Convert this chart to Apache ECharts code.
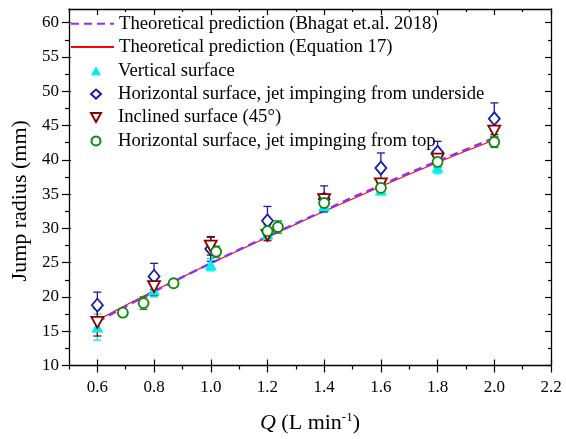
<!DOCTYPE html>
<html>
<head>
<meta charset="utf-8">
<script src="https://cdn.jsdelivr.net/npm/echarts@6/dist/echarts.min.js"></script>
<style>html,body{margin:0;padding:0;background:#fff}#c{width:566px;height:439px}</style>
</head>
<body>
<div id="c"></div>
<script>
// ---- data ----
const qLine = [0.6,0.7,0.8,0.9,1.0,1.1,1.2,1.3,1.4,1.5,1.6,1.7,1.8,1.9,2.0];
const bhagat = [16.4,18.6,20.8,22.9,24.9,26.9,28.8,30.7,32.6,34.5,36.3,38.1,39.8,41.5,43.2];
const eq17 = [16.6,18.8,20.9,22.9,24.9,26.8,28.7,30.6,32.5,34.3,36.1,37.9,39.6,41.3,42.9];

const qMain = [0.6,0.8,1.0,1.2,1.4,1.6,1.8,2.0];
const vertY   = [15.6,21.0,24.7,29.2,33.3,35.6,38.9,43.3];
const vertErr = [1.9,1.0,0.9,0.8,0.8,0.7,0.9,0.8];
const underY   = [18.8,23.0,27.0,31.1,34.3,38.8,41.1,46.0];
const underErr = [1.9,1.9,1.8,2.1,1.9,2.2,1.6,2.3];
const inclY   = [16.3,21.5,27.4,29.0,34.2,36.5,40.1,44.2];
const inclErr = [2.0,1.3,1.3,0.8,0.8,0.7,0.8,0.8];
const qTop   = [0.69,0.763,0.869,1.019,1.2,1.237,1.4,1.6,1.8,2.0];
const topY   = [17.7,19.1,22.0,26.6,29.6,30.2,33.7,35.9,39.7,42.6];
const topErr = [0.3,0.9,0.4,0.8,0.9,0.9,0.8,0.7,0.8,0.8];

const xMajor = [0.6,0.8,1.0,1.2,1.4,1.6,1.8,2.0,2.2];
const xMinor = [0.5,0.7,0.9,1.1,1.3,1.5,1.7,1.9,2.1];
const yMajor = [10,15,20,25,30,35,40,45,50,55,60];
const yMinor = [12.5,17.5,22.5,27.5,32.5,37.5,42.5,47.5,52.5,57.5];

const names = {
  bh: 'Theoretical prediction (Bhagat et.al. 2018)',
  eq: 'Theoretical prediction (Equation 17)',
  v: 'Vertical surface',
  u: 'Horizontal surface, jet impinging from underside',
  i: 'Inclined surface (45\u00B0)',
  t: 'Horizontal surface, jet impinging from top'
};
// ---- style ----
const FONT = "'Liberation Serif','Times New Roman',serif";
const C = {bh:'#9030F0', eq:'#FF0000', v:'#00F0F0', u:'#1A1AA6', i:'#8B0000', t:'#0A8A0A'};
const XMIN=0.5, XMAX=2.2, YMIN=10, YMAX=62;

function ax(type, extra){
  const base = {type:'value', gridIndex:0,
    min: type==='x'?XMIN:YMIN, max: type==='x'?XMAX:YMAX,
    axisLine:{show:false}, axisTick:{show:false}, axisLabel:{show:false},
    splitLine:{show:false}, minorTick:{show:false}};
  return Object.assign(base, extra);
}
const lineSty = {show:true, onZero:false, lineStyle:{color:'#000', width:1.3}};
function tick(vals, len, inside){ return {show:true, customValues:vals, length:len, inside:inside, lineStyle:{color:'#000', width:1.2}}; }

const pairs = (xs, ys) => xs.map((x,k)=>[x, ys[k]]);
const triples = (xs, ys, es) => xs.map((x,k)=>[x, ys[k], es[k]]);

function errSeries(data, color){
  return {
    type:'custom', data: data, z: 2, silent:true,
    renderItem: function(params, api){
      const x = api.value(0), y = api.value(1), e = api.value(2);
      const lo = api.coord([x, y - e]);
      const hi = api.coord([x, y + e]);
      const w = 4;
      const st = {stroke: color, lineWidth: 1.3};
      return {type:'group', children:[
        {type:'line', shape:{x1:lo[0], y1:lo[1], x2:hi[0], y2:hi[1]}, style:st},
        {type:'line', shape:{x1:lo[0]-w, y1:lo[1], x2:lo[0]+w, y2:lo[1]}, style:st},
        {type:'line', shape:{x1:hi[0]-w, y1:hi[1], x2:hi[0]+w, y2:hi[1]}, style:st}
      ]};
    }
  };
}
function scat(name, data, color, symbol, size, filled){
  return {type:'scatter', name:name, data:data, symbol:symbol, symbolSize:size, z:3,
    itemStyle:{color: filled?color:'#fff', borderColor:color, borderWidth: filled?0:1.8, opacity:1},
    emphasis:{disabled:true}};
}

const chart = echarts.init(document.getElementById('c'), null, {renderer:'canvas'});
const legendText = {fontFamily:FONT, fontSize:18.7, color:'#000', lineHeight:23.4};
chart.setOption({
  animation:false,
  backgroundColor:'#fff',
  grid:{left:69, right:15, top:9, bottom:73, containLabel:false},
  legend:[
    {data:[{name:names.bh, itemStyle:{opacity:0}}, {name:names.eq, itemStyle:{opacity:0}}],
     orient:'vertical', left:70, top:12, padding:0,
     itemWidth:43, itemHeight:10, itemGap:0, selectedMode:false, textStyle:legendText},
    {data:[names.v, names.u, names.i, names.t], orient:'vertical', left:90, top:59, padding:0,
     itemWidth:10, itemHeight:9, itemGap:0, selectedMode:false,
     textStyle:Object.assign({padding:[0,0,0,12]}, legendText)}
  ],
  xAxis:[
    ax('x', {position:'bottom', axisLine:lineSty, axisTick:tick(xMajor,7,false),
      axisLabel:{show:true, customValues:xMajor, margin:14, fontFamily:FONT, fontSize:17, color:'#000',
        formatter:v=>Number(v).toFixed(1)},
      name:'{i|Q} (L min{s|-1})', nameLocation:'middle', nameGap:46,
      nameTextStyle:{fontFamily:FONT, fontSize:22, color:'#000',
        rich:{i:{fontFamily:FONT, fontSize:22, fontStyle:'italic', color:'#000'},
              s:{fontFamily:FONT, fontSize:13, color:'#000', padding:[0,0,10,0]}}}}),
    ax('x', {position:'bottom', axisTick:tick(xMajor,6,true)}),
    ax('x', {position:'bottom', axisTick:tick(xMinor,4,false)}),
    ax('x', {position:'top', axisLine:lineSty, axisTick:tick(xMajor,6,true)}),
    ax('x', {position:'top', axisTick:tick(xMinor,3,true)})
  ],
  yAxis:[
    ax('y', {position:'left', axisLine:lineSty, axisTick:tick(yMajor,7,false),
      axisLabel:{show:true, customValues:yMajor, margin:10, fontFamily:FONT, fontSize:17, color:'#000'},
      name:'Jump radius (mm)', nameLocation:'middle', nameGap:37,
      nameTextStyle:{fontFamily:FONT, fontSize:22, color:'#000', padding:[0,27,0,0]}}),
    ax('y', {position:'left', axisTick:tick(yMajor,2,true)}),
    ax('y', {position:'left', axisTick:tick(yMinor,4,false)}),
    ax('y', {position:'right', axisLine:lineSty, axisTick:tick(yMajor,6,true)}),
    ax('y', {position:'right', axisTick:tick(yMinor,3,true)})
  ],
  series:[
    {type:'line', name:names.eq, data:pairs(qLine,eq17), symbol:'none', smooth:false, z:1,
     lineStyle:{color:C.eq, width:1.1}, itemStyle:{color:C.eq}, emphasis:{disabled:true}},
    {type:'line', name:names.bh, data:pairs(qLine,bhagat), symbol:'none', smooth:false, z:1,
     lineStyle:{color:C.bh, width:2.4, type:[8,5]}, itemStyle:{color:C.bh}, emphasis:{disabled:true}},
    errSeries(triples(qMain,vertY,vertErr), C.v),
    errSeries(triples(qMain,underY,underErr), C.u),
    errSeries(triples(qMain,inclY,inclErr), C.i),
    errSeries(triples(qTop,topY,topErr), C.t),
    scat(names.v, pairs(qMain,vertY), C.v, 'triangle', [12,11], true),
    scat(names.u, pairs(qMain,underY), C.u, 'diamond', [11,13], false),
    scat(names.i, pairs(qMain,inclY), C.i, 'path://M0,0L10,0L5,9Z', [12,11], false),
    scat(names.t, pairs(qTop,topY), C.t, 'circle', 10, false)
  ]
});
</script>
</body>
</html>
